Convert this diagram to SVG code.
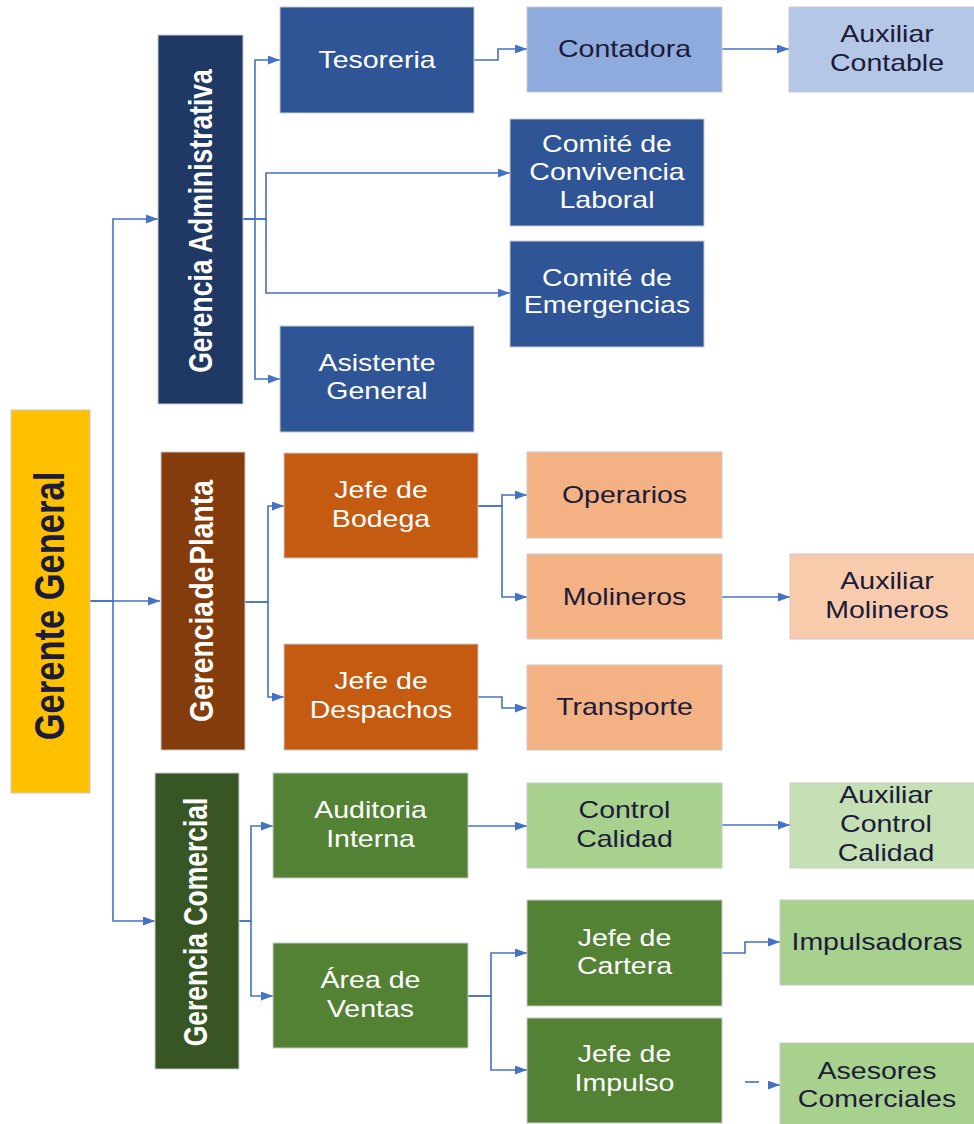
<svg xmlns="http://www.w3.org/2000/svg" width="974" height="1124" viewBox="0 0 974 1124">
<defs>
<marker id="ah" markerUnits="userSpaceOnUse" markerWidth="12" markerHeight="9" refX="12" refY="4.5" orient="auto">
<path d="M0,0 L12,4.5 L0,9 z" fill="#4472C4"/>
</marker>
<style>
.c{fill:none;stroke:#4472C4;stroke-width:1.6}
.a{marker-end:url(#ah)}
.n{stroke:#C9C9C9;stroke-width:1}
.t{font-family:"Liberation Sans",Arial,sans-serif;font-size:23px;text-anchor:middle}
.w{fill:#FFFFFF}
.d{fill:#1B1B3A}
.v{font-family:"Liberation Sans",Arial,sans-serif;font-weight:bold;text-anchor:middle}
</style>
</defs>
<rect width="974" height="1124" fill="#FFFFFF"/>
<g id="connectors">
<path class="c a" d="M90,601 H113 V219 H158"/>
<path class="c a" d="M90,601 H160"/>
<path class="c a" d="M90,601 H113 V921 H155"/>
<path class="c a" d="M243,219 H255 V60 H280"/>
<path class="c a" d="M243,219 H255 V379 H280"/>
<path class="c a" d="M243,219 H266 V173 H510"/>
<path class="c a" d="M243,219 H266 V293 H510"/>
<path class="c a" d="M474,60 H498 V49 H527"/>
<path class="c a" d="M722,49 H789"/>
<path class="c a" d="M245,602 H268 V506 H284"/>
<path class="c a" d="M245,602 H268 V697 H284"/>
<path class="c a" d="M478,506 H502 V495 H527"/>
<path class="c a" d="M478,506 H502 V597 H527"/>
<path class="c a" d="M722,597 H790"/>
<path class="c a" d="M478,697 H502 V708 H527"/>
<path class="c a" d="M239,921 H251 V826 H273"/>
<path class="c a" d="M239,921 H251 V996 H273"/>
<path class="c a" d="M468,826 H527"/>
<path class="c a" d="M722,825 H790"/>
<path class="c a" d="M468,996 H491 V953 H527"/>
<path class="c a" d="M468,996 H491 V1070 H527"/>
<path class="c a" d="M722,953 H745 V942 H780"/>
<path class="c" d="M745,1082 H759"/>
<path class="c a" d="M770,1085 H780"/>
</g>
<g id="gerente-general">
<rect class="n" x="11" y="410" width="79" height="383" fill="#FFC000"/>
<text class="v" font-size="34.5" fill="#1B1B3A" transform="translate(48.5,606) scale(1.24,1) rotate(-90)" y="12.4">Gerente General</text>
</g>
<g id="gerencia-administrativa">
<rect class="n" x="158" y="35" width="85" height="369" fill="#203864"/>
<text class="v w" font-size="26.5" transform="translate(200,221) scale(1.24,1) rotate(-90)" y="9.5">Gerencia Administrativa</text>
</g>
<g id="gerencia-planta">
<rect class="n" x="161" y="452" width="84" height="298" fill="#843C0C"/>
<text class="v w" font-size="27" word-spacing="-6" textLength="242" lengthAdjust="spacingAndGlyphs" transform="translate(200.5,601) scale(1.24,1) rotate(-90)" y="9.7">Gerencia de Planta</text>
</g>
<g id="gerencia-comercial">
<rect class="n" x="155" y="773" width="84" height="296" fill="#375623"/>
<text class="v w" font-size="26.5" transform="translate(195,922) scale(1.24,1) rotate(-90)" y="9.5">Gerencia Comercial</text>
</g>
<g id="tesoreria">
<rect class="n" x="280" y="7" width="194" height="106" fill="#2F5597"/>
<text class="t w" transform="translate(377,67.5) scale(1.24,1)">Tesoreria</text>
</g>
<g id="contadora">
<rect class="n" x="527" y="7" width="195" height="85" fill="#8FAADC"/>
<text class="t d" transform="translate(624.5,57) scale(1.24,1)">Contadora</text>
</g>
<g id="auxiliar-contable">
<rect class="n" x="789" y="7" width="186" height="85" fill="#B4C7E7"/>
<text class="t d" transform="translate(887,42) scale(1.24,1)"><tspan x="0" y="0">Auxiliar</tspan><tspan x="0" y="29">Contable</tspan></text>
</g>
<g id="comite-convivencia">
<rect class="n" x="510" y="119" width="194" height="107" fill="#2F5597"/>
<text class="t w" transform="translate(607,152) scale(1.24,1)"><tspan x="0" y="0">Comité de</tspan><tspan x="0" y="28">Convivencia</tspan><tspan x="0" y="56">Laboral</tspan></text>
</g>
<g id="comite-emergencias">
<rect class="n" x="510" y="241" width="194" height="106" fill="#2F5597"/>
<text class="t w" transform="translate(607,285.5) scale(1.24,1)"><tspan x="0" y="0">Comité de</tspan><tspan x="0" y="28">Emergencias</tspan></text>
</g>
<g id="asistente-general">
<rect class="n" x="280" y="326" width="194" height="106" fill="#2F5597"/>
<text class="t w" transform="translate(377,371) scale(1.24,1)"><tspan x="0" y="0">Asistente</tspan><tspan x="0" y="28">General</tspan></text>
</g>
<g id="jefe-bodega">
<rect class="n" x="284" y="453" width="194" height="105" fill="#C55A11"/>
<text class="t w" transform="translate(381,498) scale(1.24,1)"><tspan x="0" y="0">Jefe de</tspan><tspan x="0" y="29">Bodega</tspan></text>
</g>
<g id="jefe-despachos">
<rect class="n" x="284" y="644" width="194" height="106" fill="#C55A11"/>
<text class="t w" transform="translate(381,689) scale(1.24,1)"><tspan x="0" y="0">Jefe de</tspan><tspan x="0" y="29">Despachos</tspan></text>
</g>
<g id="operarios">
<rect class="n" x="527" y="452" width="195" height="86" fill="#F4B183"/>
<text class="t d" transform="translate(624.5,503) scale(1.24,1)">Operarios</text>
</g>
<g id="molineros">
<rect class="n" x="527" y="554" width="195" height="85" fill="#F4B183"/>
<text class="t d" transform="translate(624.5,604.5) scale(1.24,1)">Molineros</text>
</g>
<g id="auxiliar-molineros">
<rect class="n" x="790" y="554" width="185" height="85" fill="#F8CBAD"/>
<text class="t d" transform="translate(887,589) scale(1.24,1)"><tspan x="0" y="0">Auxiliar</tspan><tspan x="0" y="29">Molineros</tspan></text>
</g>
<g id="transporte">
<rect class="n" x="527" y="665" width="195" height="85" fill="#F4B183"/>
<text class="t d" transform="translate(624.5,715) scale(1.24,1)">Transporte</text>
</g>
<g id="auditoria-interna">
<rect class="n" x="273" y="773" width="195" height="105" fill="#548235"/>
<text class="t w" transform="translate(370.5,818) scale(1.24,1)"><tspan x="0" y="0">Auditoria</tspan><tspan x="0" y="29">Interna</tspan></text>
</g>
<g id="area-ventas">
<rect class="n" x="273" y="943" width="195" height="105" fill="#548235"/>
<text class="t w" transform="translate(370.5,988) scale(1.24,1)"><tspan x="0" y="0">Área de</tspan><tspan x="0" y="29">Ventas</tspan></text>
</g>
<g id="control-calidad">
<rect class="n" x="527" y="783" width="195" height="85" fill="#A9D18E"/>
<text class="t d" transform="translate(624.5,818) scale(1.24,1)"><tspan x="0" y="0">Control</tspan><tspan x="0" y="29">Calidad</tspan></text>
</g>
<g id="auxiliar-control-calidad">
<rect class="n" x="790" y="783" width="185" height="85" fill="#C5E0B4"/>
<text class="t d" transform="translate(886,803) scale(1.24,1)"><tspan x="0" y="0">Auxiliar</tspan><tspan x="0" y="29">Control</tspan><tspan x="0" y="58">Calidad</tspan></text>
</g>
<g id="jefe-cartera">
<rect class="n" x="527" y="900" width="195" height="106" fill="#548235"/>
<text class="t w" transform="translate(624.5,946) scale(1.24,1)"><tspan x="0" y="0">Jefe de</tspan><tspan x="0" y="28">Cartera</tspan></text>
</g>
<g id="jefe-impulso">
<rect class="n" x="527" y="1018" width="195" height="105" fill="#548235"/>
<text class="t w" transform="translate(624.5,1062) scale(1.24,1)"><tspan x="0" y="0">Jefe de</tspan><tspan x="0" y="29">Impulso</tspan></text>
</g>
<g id="impulsadoras">
<rect class="n" x="780" y="900" width="195" height="85" fill="#A9D18E"/>
<text class="t d" transform="translate(877,950) scale(1.24,1)">Impulsadoras</text>
</g>
<g id="asesores-comerciales">
<rect class="n" x="780" y="1043" width="195" height="85" fill="#A9D18E"/>
<text class="t d" transform="translate(877,1079) scale(1.24,1)"><tspan x="0" y="0">Asesores</tspan><tspan x="0" y="28">Comerciales</tspan></text>
</g>
</svg>
